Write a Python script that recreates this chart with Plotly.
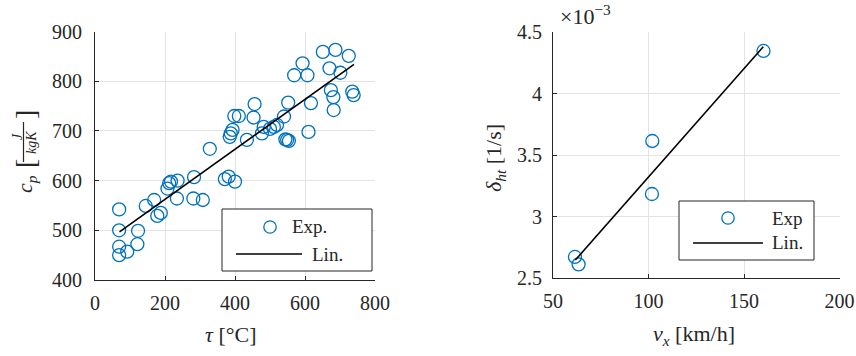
import plotly.graph_objects as go

# ---- specific heat vs. temperature ----
tau_exp = [69, 69, 69, 92, 69, 121, 123,
           145, 169, 188, 178, 212, 217, 207, 236, 234, 283, 281, 308, 328,
           371, 382, 400,
           385, 393, 388,
           398, 411, 456, 453, 434, 482, 477, 500, 511, 520, 540, 549, 554, 544, 610, 552, 617,
           651, 687, 725, 593, 569, 607, 670, 701, 674, 681, 682, 735, 739]
cp_exp = [542, 500, 467, 457, 450, 472, 499,
          549, 561, 535, 529, 595, 598, 584, 600, 564, 607, 564, 561, 664,
          603, 608, 598,
          688, 702, 695,
          730, 730, 754, 727, 682, 708, 695, 704, 708, 712, 729, 682, 680, 683, 698, 757, 756,
          859, 863, 851, 836, 812, 812, 826, 817, 782, 768, 742, 779, 772]
tau_lin = [70, 740]
cp_lin = [497, 834]

# ---- heat transfer rate vs. speed ----
vx_exp = [61.5, 63.4, 101.8, 102.0, 160.2]
delta_exp = [2.671e-3, 2.611e-3, 3.183e-3, 3.614e-3, 4.346e-3]
vx_lin = [61.7, 160.1]
delta_lin = [2.646e-3, 4.38e-3]

tau_ticks = [0, 200, 400, 600, 800]
cp_ticks = [400, 500, 600, 700, 800, 900]
vx_ticks = [50, 100, 150, 200]
delta_ticks = [2.5e-3, 3.0e-3, 3.5e-3, 4.0e-3, 4.5e-3]
delta_ticktext = ["2.5", "3", "3.5", "4", "4.5"]

W, H = 856, 356
FONT = "'Liberation Serif', 'DejaVu Serif', 'Times New Roman', serif"
INK = "#262626"
BLUE = "#0072BD"
GRID = "#e3e3e3"


def px(x):
    return x / W


def py(y):
    return 1 - y / H


fig = go.Figure()

marker_style = dict(symbol="circle-open", size=13, color=BLUE, line=dict(width=1.3, color=BLUE))

fig.add_trace(go.Scatter(x=tau_exp, y=cp_exp, mode="markers", name="Exp.",
                         marker=marker_style, xaxis="x", yaxis="y", showlegend=False))
fig.add_trace(go.Scatter(x=tau_lin, y=cp_lin, mode="lines", name="Lin.",
                         line=dict(color="black", width=1.6), xaxis="x", yaxis="y",
                         showlegend=False))
fig.add_trace(go.Scatter(x=vx_exp, y=delta_exp, mode="markers", name="Exp",
                         marker=marker_style, xaxis="x2", yaxis="y2", showlegend=False))
fig.add_trace(go.Scatter(x=vx_lin, y=delta_lin, mode="lines", name="Lin.",
                         line=dict(color="black", width=1.6), xaxis="x2", yaxis="y2",
                         showlegend=False))

axis_common = dict(
    showgrid=True, gridcolor=GRID, gridwidth=1, zeroline=False,
    showline=True, linecolor=INK, linewidth=1, mirror=False,
    ticks="inside", ticklen=4, tickcolor=INK, tickwidth=1,
    tickfont=dict(family=FONT, size=20, color=INK),
    automargin=False,
)

fig.update_layout(
    width=W, height=H,
    margin=dict(l=0, r=0, t=0, b=0, autoexpand=False),
    paper_bgcolor="white", plot_bgcolor="white",
    font=dict(family=FONT, color=INK),
    xaxis=dict(domain=[px(95), px(375)], range=[0, 800], tickvals=tau_ticks,
               anchor="y", ticklabelstandoff=5, **axis_common),
    yaxis=dict(domain=[py(280), py(31.5)], range=[400, 900], tickvals=cp_ticks,
               anchor="x", ticklabelstandoff=8, **axis_common),
    xaxis2=dict(domain=[px(553), px(839.5)], range=[50, 200], tickvals=vx_ticks,
                anchor="y2", ticklabelstandoff=5, **axis_common),
    yaxis2=dict(domain=[py(278), py(32)], range=[2.5e-3, 4.5e-3], tickvals=delta_ticks,
                ticktext=delta_ticktext, anchor="x2", ticklabelstandoff=6, **axis_common),
    showlegend=False,
)


def label(x, y, text, size=22, angle=0, anchor="center"):
    fig.add_annotation(x=px(x), y=py(y), xref="paper", yref="paper", text=text,
                       showarrow=False, xanchor=anchor, yanchor="middle",
                       textangle=angle, font=dict(family=FONT, size=size, color=INK),
                       borderpad=0)


def legend_box(x0, y0, x1, y1, circ, circ_text, line_x, line_text, line_y, text_exp_x, text_lin_x):
    fig.add_shape(type="rect", xref="paper", yref="paper",
                  x0=px(x0), x1=px(x1), y0=py(y1), y1=py(y0),
                  line=dict(color=INK, width=1), fillcolor="white", layer="above")
    cx, cy = circ
    r = 6.2
    fig.add_shape(type="circle", xref="paper", yref="paper",
                  x0=px(cx - r), x1=px(cx + r), y0=py(cy + r), y1=py(cy - r),
                  line=dict(color=BLUE, width=1.3), layer="above")
    fig.add_shape(type="line", xref="paper", yref="paper",
                  x0=px(line_x[0]), x1=px(line_x[1]), y0=py(line_y), y1=py(line_y),
                  line=dict(color="black", width=1.6), layer="above")
    label(text_exp_x, cy, circ_text, size=19, anchor="left")
    label(text_lin_x, line_y, line_text, size=19, anchor="left")


# legends
legend_box(222, 209, 372, 271, (270, 227), "Exp.", (236, 302), "Lin.", 254, 291, 311)
legend_box(679, 201, 814, 260, (728, 218), "Exp", (693, 763), "Lin.", 243, 771, 771)

# axis titles
label(231, 334, "<i>τ</i> [°C]")
label(694, 335, "<i>v</i><sub><i>x</i></sub> [km/h]")
label(495, 158, "<i>δ</i><sub><i>ht</i></sub> [1/s]", angle=-90)

# c_p [J / kgK] with a stacked fraction
label(26, 184, "<i>c</i><sub><i>p</i></sub>", angle=-90)
label(25, 164, "[", size=28, angle=-90)
label(25, 115, "]", size=28, angle=-90)
label(17, 137, "<i>J</i>", size=14, angle=-90)
label(31, 142, "<i>kgK</i>", size=14, angle=-90)
fig.add_shape(type="line", xref="paper", yref="paper",
              x0=px(23.5), x1=px(23.5), y0=py(122), y1=py(162),
              line=dict(color=INK, width=1.2))

# exponent of the right y axis
label(585, 15, "×10<sup>−3</sup>", size=22)

fig.write_html("out.html")
